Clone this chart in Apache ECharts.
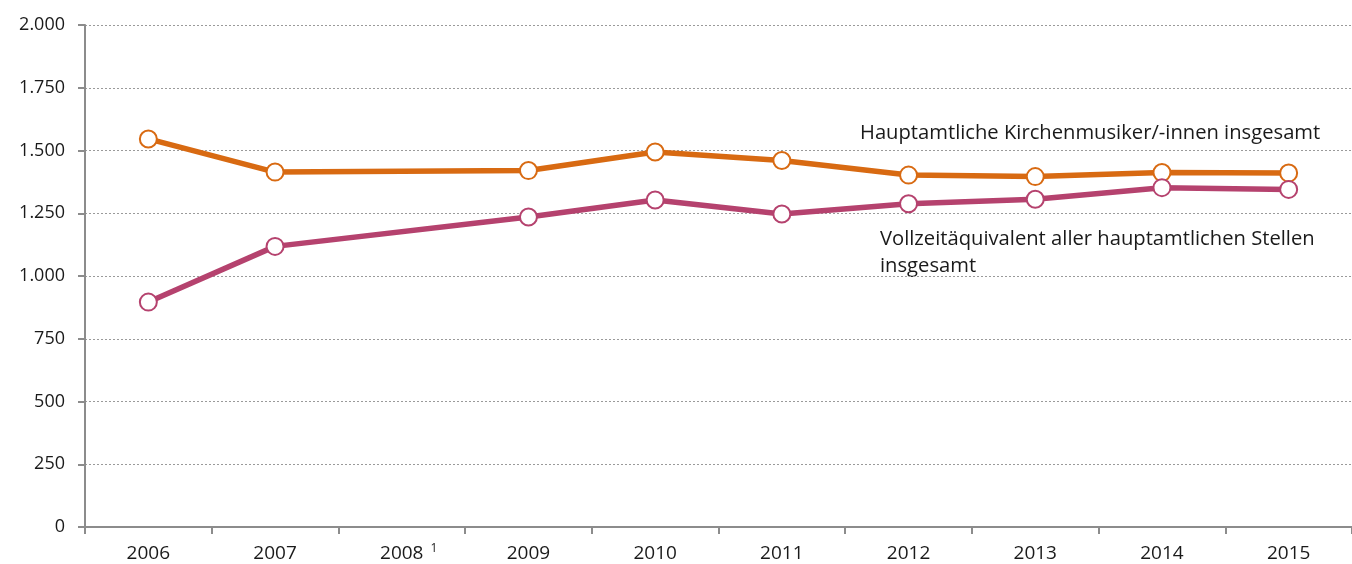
<!DOCTYPE html>
<html><head><meta charset="utf-8">
<script src="https://cdn.jsdelivr.net/npm/echarts@6/dist/echarts.min.js"></script>
<style>html,body{margin:0;padding:0;background:#fff}#c{width:1352px;height:564px}</style>
</head><body><div id="c"></div>
<script>
const categories = ['2006','2007','2008','2009','2010','2011','2012','2013','2014','2015'];
const kirchenmusiker = [1546, 1414, null, 1420, 1494, 1460, 1402, 1396, 1412, 1410];
const vollzeit = [896, 1118, null, 1235, 1303, 1247, 1288, 1306, 1352, 1345];
const yTicks = [0, 250, 500, 750, 1000, 1250, 1500, 1750, 2000];
const labelKirchen = 'Hauptamtliche Kirchenmusiker/-innen insgesamt';
const labelVollzeit = 'Vollzeitäquivalent aller hauptamtlichen Stellen\ninsgesamt';

const FONT = 'Open Sans';
const chart = echarts.init(document.getElementById('c'));
const fmt = v => v >= 1000 ? String(v).replace(/(\d)(\d{3})$/, '$1.$2') : String(v);
const sym = c => ({
  type: 'line', symbol: 'circle', symbolSize: 17, connectNulls: true, smooth: false,
  lineStyle: { color: c, width: 5.5 },
  itemStyle: { color: '#fff', borderColor: c, borderWidth: 2 },
  emphasis: { disabled: true }, z: 3
});
chart.setOption({
  animation: false,
  grid: { left: 85, right: -4, top: 25, bottom: 37 },
  xAxis: {
    type: 'category', data: categories, boundaryGap: true,
    axisLine: { lineStyle: { color: '#8c8c8c', width: 2 } },
    axisTick: { show: true, length: 7, interval: 0, lineStyle: { color: '#8c8c8c', width: 2 } },
    axisLabel: {
      interval: 0,
      fontFamily: FONT, fontSize: 19, color: '#1a1a1a', margin: 16,
      formatter: v => v === '2008' ? '{sp|}{n|' + v + '}{sup|1}' : '{n|' + v + '}',
      rich: {
        n: { fontFamily: FONT, fontSize: 19, color: '#1a1a1a', lineHeight: 22 },
        sp: { width: 14, lineHeight: 22 },
        sup: { fontFamily: FONT, fontSize: 12, color: '#1a1a1a', width: 14, align: 'right', lineHeight: 22, verticalAlign: 'top', padding: [0, 0, 8, 0] }
      }
    },
    splitLine: { show: false }
  },
  yAxis: {
    type: 'value', min: 0, max: 2000, interval: 250,
    axisLine: { show: true, lineStyle: { color: '#8c8c8c', width: 2 } },
    axisTick: { show: true, length: 7, lineStyle: { color: '#8c8c8c', width: 2 } },
    axisLabel: { fontFamily: FONT, fontSize: 18, color: '#1a1a1a', margin: 20, formatter: v => yTicks.includes(v) ? fmt(v) : '' },
    splitLine: { show: true, lineStyle: { color: '#9a9a9a', type: [2, 2], width: 1 } }
  },
  series: [
    Object.assign(sym('#d86a12'), { name: labelKirchen, data: kirchenmusiker }),
    Object.assign(sym('#b5426e'), { name: labelVollzeit, data: vollzeit })
  ],
  graphic: [
    { type: 'text', left: 860, top: 123, style: { text: labelKirchen, fontFamily: FONT, fontSize: 20.2, fill: '#1a1a1a' } },
    { type: 'text', left: 880, top: 226, style: { text: labelVollzeit, fontFamily: FONT, fontSize: 20.2, lineHeight: 27, fill: '#1a1a1a' } }
  ]
});
</script></body></html>
